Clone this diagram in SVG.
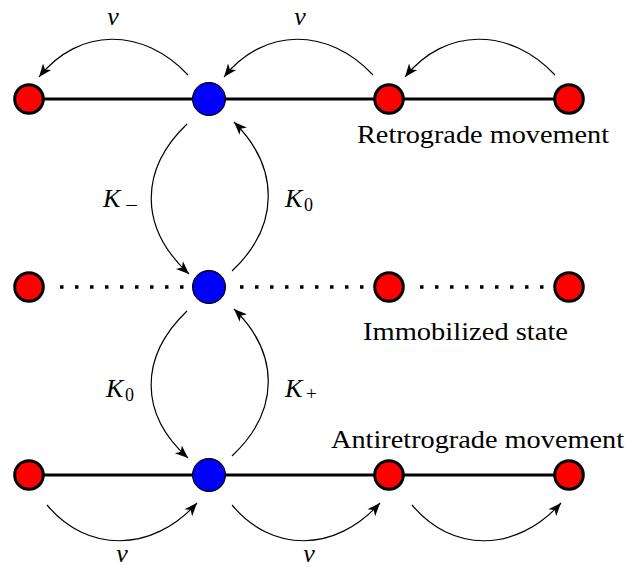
<svg xmlns="http://www.w3.org/2000/svg" width="630" height="567" viewBox="0 0 630 567">
<style>
.bg{fill:#ffffff}
.track{stroke:#000;stroke-width:3;fill:none}
.dots{stroke:#000;stroke-width:3.5;fill:none;stroke-dasharray:3.5 11.5}
.red{fill:#ff0000;stroke:#000;stroke-width:3}
.blue{fill:#0000ff;stroke:#000;stroke-width:1.2}
.arc{stroke:#000;stroke-width:1.2;fill:none;marker-end:url(#head)}
</style>
<defs>
<marker id="head" markerUnits="userSpaceOnUse" markerWidth="16" markerHeight="12" viewBox="-14 -6 16 12" refX="0" refY="0" orient="auto">
<path d="M0,0 L-13,-5.2 L-9.5,0 L-13,5.2 Z" fill="#000"/>
</marker>
</defs>
<rect class="bg" x="0" y="0" width="630" height="567"/>
<g id="tracks">
<line class="track" x1="29" y1="99" x2="569" y2="99"/>
<line class="dots" x1="60" y1="287" x2="183.5" y2="287"/>
<line class="dots" x1="240" y1="287" x2="363.5" y2="287"/>
<line class="dots" x1="420" y1="287" x2="543.5" y2="287"/>
<line class="track" x1="29" y1="475" x2="569" y2="475"/>
</g>
<g id="connectors">
<path class="arc" d="M188,75 C143,27 79,27 39,77"/>
<path class="arc" d="M373,75 C328,27 264,27 224,77"/>
<path class="arc" d="M555,75 C510,27 445,27 405,77"/>
<path class="arc" d="M187,124 C139,170 139,228 189,274"/>
<path class="arc" d="M232,271 C280,226 280,168 234,122"/>
<path class="arc" d="M187,311 C139,357 139,414 188,458"/>
<path class="arc" d="M232,456 C280,411 280,354 234,309"/>
<path class="arc" d="M47,505 C87,553 152,553 197,503"/>
<path class="arc" d="M232,505 C272,553 335,553 380,503"/>
<path class="arc" d="M412,505 C452,553 516,553 561,503"/>
</g>
<g id="n-top-1"><circle class="red" cx="29" cy="99" r="14.3"/></g>
<g id="n-top-2"><circle class="blue" cx="209" cy="99" r="16.4"/></g>
<g id="n-top-3"><circle class="red" cx="389" cy="99" r="14.3"/></g>
<g id="n-top-4"><circle class="red" cx="569" cy="99" r="14.3"/></g>
<g id="n-mid-1"><circle class="red" cx="29" cy="287" r="14.3"/></g>
<g id="n-mid-2"><circle class="blue" cx="209" cy="287" r="16.4"/></g>
<g id="n-mid-3"><circle class="red" cx="389" cy="287" r="14.3"/></g>
<g id="n-mid-4"><circle class="red" cx="569" cy="287" r="14.3"/></g>
<g id="n-bot-1"><circle class="red" cx="29" cy="475" r="14.3"/></g>
<g id="n-bot-2"><circle class="blue" cx="209" cy="475" r="16.4"/></g>
<g id="n-bot-3"><circle class="red" cx="389" cy="475" r="14.3"/></g>
<g id="n-bot-4"><circle class="red" cx="569" cy="475" r="14.3"/></g>
<g id="labels" fill="#000">
<text font-family="Liberation Serif" font-size="25" x="357" y="143" textLength="252" lengthAdjust="spacingAndGlyphs">Retrograde movement</text>
<text font-family="Liberation Serif" font-size="25" x="363" y="340" textLength="205" lengthAdjust="spacingAndGlyphs">Immobilized state</text>
<text font-family="Liberation Serif" font-size="25" x="331" y="448" textLength="293" lengthAdjust="spacingAndGlyphs">Antiretrograde movement</text>
<text font-family="Liberation Serif" font-style="italic" font-size="26" x="113" y="25" text-anchor="middle">v</text>
<text font-family="Liberation Serif" font-style="italic" font-size="26" x="300" y="25" text-anchor="middle">v</text>
<text font-family="Liberation Serif" font-style="italic" font-size="26" x="122" y="562" text-anchor="middle">v</text>
<text font-family="Liberation Serif" font-style="italic" font-size="26" x="309" y="562" text-anchor="middle">v</text>
<text font-family="Liberation Serif" font-style="italic" font-size="26" x="103" y="207">K</text>
<text font-family="Liberation Serif" font-size="19" x="125" y="212" textLength="13" lengthAdjust="spacingAndGlyphs">−</text>
<text font-family="Liberation Serif" font-style="italic" font-size="26" x="285" y="207">K</text>
<text font-family="Liberation Serif" font-size="18" x="304" y="211">0</text>
<text font-family="Liberation Serif" font-style="italic" font-size="26" x="106" y="397">K</text>
<text font-family="Liberation Serif" font-size="18" x="125" y="401">0</text>
<text font-family="Liberation Serif" font-style="italic" font-size="26" x="285" y="397">K</text>
<text font-family="Liberation Serif" font-size="19" x="306" y="400">+</text>
</g>
</svg>
